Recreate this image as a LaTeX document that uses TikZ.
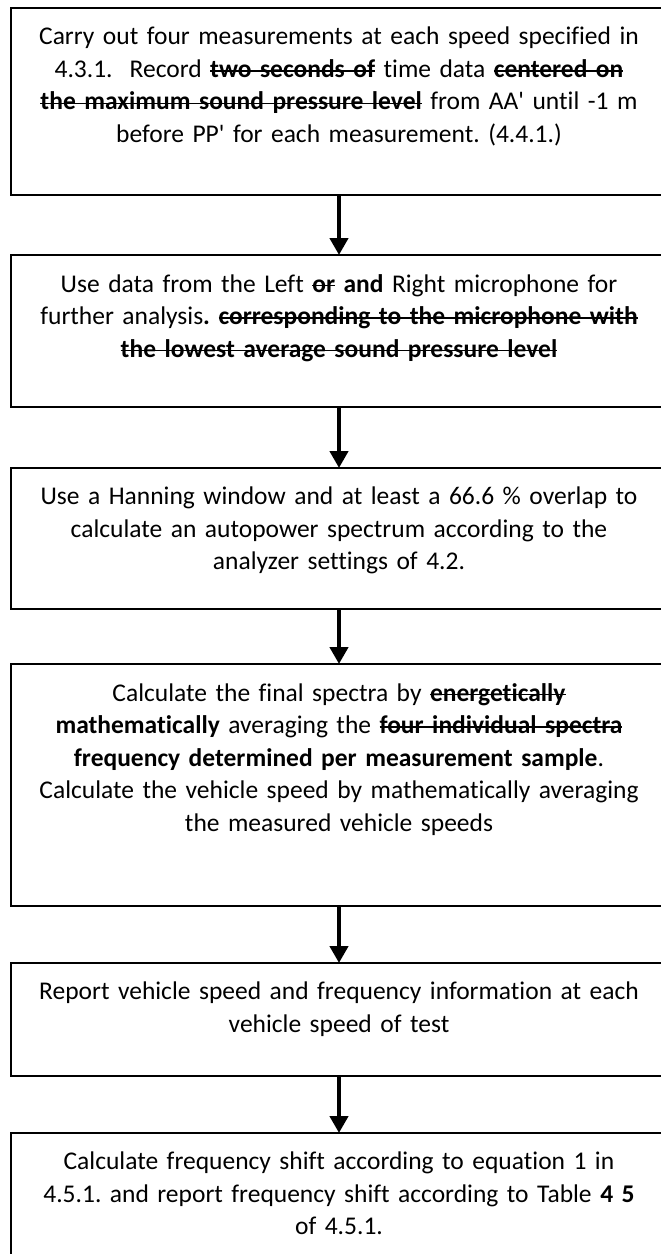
\documentclass[tikz,border=0pt]{standalone}
\usepackage{fontspec}
\setmainfont{Carlito}[Ligatures=NoCommon]
\usetikzlibrary{positioning}
\usetikzlibrary{arrows.meta}
\newcommand{\crossout}[1]{\leavevmode\setbox0\hbox{\textbf{#1}}\rlap{\raisebox{0.22em}{\rule{\wd0}{1.6pt}}}\box0\relax}
\frenchspacing

\begin{document}
\begin{tikzpicture}[
    x=1pt, y=1pt,
    stepbox/.style={
        draw,
        line width=1.6pt,
        minimum width=656pt,
        inner sep=0pt,
        outer sep=0pt,
        anchor=north,
    },
    steptext/.style={
        inner sep=0pt,
        text width=700pt,
        align=center,
        font=\fontsize{25.5}{32.5}\selectfont,
        anchor=north,
    },
    flow/.style={
        -{Triangle[width=18pt,length=17pt]},
        line width=4.5pt,
    },
]
    \useasboundingbox (0,0) rectangle (661,-1254);
    \fill[white] (0,0) rectangle (661,-1254);
    \clip (0,0) rectangle (661,-1254);

    \node (measure) [stepbox, minimum height=187pt] at (339,-8) {};
    \node (mic) [stepbox, minimum height=152pt, below=60pt of measure] {};
    \node (autopower) [stepbox, minimum height=141pt, below=61pt of mic] {};
    \node (average) [stepbox, minimum height=242pt, below=55pt of autopower] {};
    \node (report) [stepbox, minimum height=113pt, below=57pt of average] {};
    \node (shift) [stepbox, minimum height=150pt, below=57pt of report] {};

    \node (measureText) [steptext, below=19pt of measure.north] {
        Carry out four measurements at each speed specified in\\
        4.3.1.\ \ Record \crossout{two seconds of} time data \crossout{centered on}\\
        \crossout{the maximum sound pressure level} from AA\textquotesingle{} until -1 m\\
        before PP\textquotesingle{} for each measurement. (4.4.1.)};
    \node (micText) [steptext, below=19pt of mic.north] {
        Use data from the Left \crossout{or} \textbf{and} Right microphone for\\
        further analysis\textbf{.} \crossout{corresponding to the microphone with}\\
        \crossout{the lowest average sound pressure level}};
    \node (autopowerText) [steptext, below=19pt of autopower.north] {
        Use a Hanning window and at least a 66.6 \% overlap to\\
        calculate an autopower spectrum according to the\\
        analyzer settings of 4.2.};
    \node (averageText) [steptext, below=19pt of average.north] {
        Calculate the final spectra by \crossout{energetically}\\
        \textbf{mathematically} averaging the \crossout{four individual spectra}\\
        \textbf{frequency determined per measurement sample}.\\
        Calculate the vehicle speed by mathematically averaging\\
        the measured vehicle speeds};
    \node (reportText) [steptext, below=19pt of report.north] {
        Report vehicle speed and frequency information at each\\
        vehicle speed of test};
    \node (shiftText) [steptext, below=19pt of shift.north] {
        Calculate frequency shift according to equation 1 in\\
        4.5.1. and report frequency shift according to Table \textbf{4 5}\\
        of 4.5.1.};

    \draw[flow] (measure) -- (mic);
    \draw[flow] (mic) -- (autopower);
    \draw[flow] (autopower) -- (average);
    \draw[flow] (average) -- (report);
    \draw[flow] (report) -- (shift);
\end{tikzpicture}
\end{document}
